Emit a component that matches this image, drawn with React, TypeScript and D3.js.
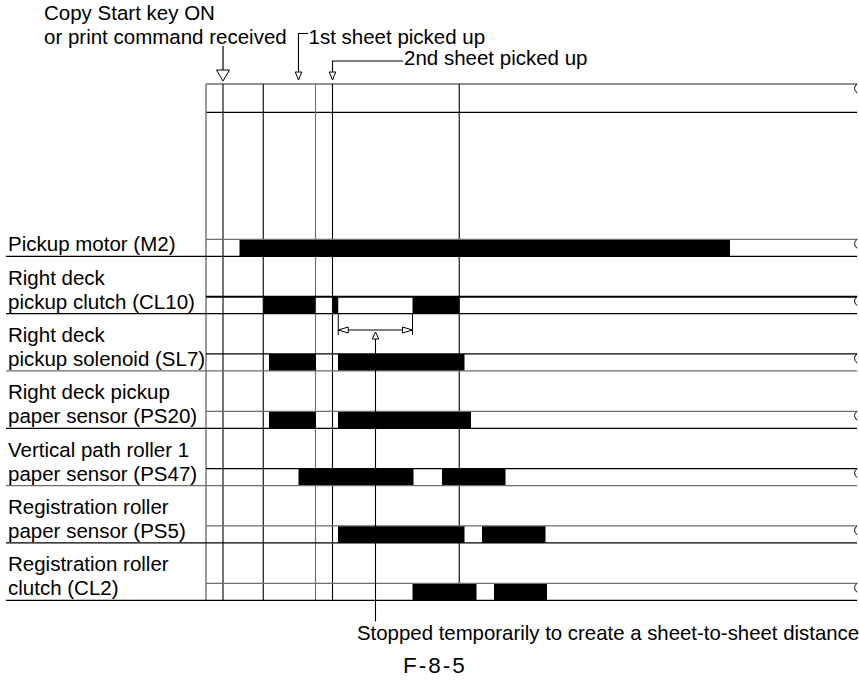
import React from "react";
import * as d3 from "d3";

// time axis in arbitrary units (0 = left border of diagram)
const rowLabels: string[][] = [
  ["Pickup motor (M2)"],
  ["Right deck", "pickup clutch (CL10)"],
  ["Right deck", "pickup solenoid (SL7)"],
  ["Right deck pickup", "paper sensor (PS20)"],
  ["Vertical path roller 1", "paper sensor (PS47)"],
  ["Registration roller", "paper sensor (PS5)"],
  ["Registration roller", "clutch (CL2)"],
];

const onIntervals: [number, number][][] = [
  [[6.7, 104.8]],
  [[11.45, 21.9], [25.3, 26.45], [41.3, 50.65]],
  [[12.6, 22.0], [26.4, 51.7]],
  [[12.6, 22.0], [26.4, 53.0]],
  [[18.5, 41.5], [47.2, 59.9]],
  [[26.4, 51.7], [55.2, 67.9]],
  [[41.3, 54.1], [57.6, 68.2]],
];

// event (timing) lines: time and whether it reaches through the last row
const eventTimes = [3.4, 11.45, 21.9, 25.3, 50.65];
const eventFull = [true, true, true, true, false];

const startEvent = 3.4; // copy start key ON
const secondPickup = 25.3;
const stopFrom = 26.45;
const stopTo = 41.3;
const stopMark = 33.9;
const timeEnd = 130.2;

const W = 859;
const H = 680;

const x = d3.scaleLinear().domain([0, timeEnd]).range([206, 857]);
const rowTop = d3
  .scaleLinear()
  .domain([0, rowLabels.length - 1])
  .range([239.3, 583.3]);
const ROW_H = 17;

const GRAY = "#6e6e6e";
const topColors = [GRAY, "#000", "#000", GRAY, "#000", GRAY, GRAY];
const botColors = ["#000", "#000", GRAY, "#000", GRAY, "#000", "#000"];
const topWidths = [1.2, 2, 1.2, 1.2, 1.2, 1.2, 1.2];

const FONT = "'Liberation Sans', Arial, Helvetica, sans-serif";

function Tri({ cx, tipY, w, h, dir }: { cx: number; tipY: number; w: number; h: number; dir: "down" | "up" }) {
  const baseY = dir === "down" ? tipY - h : tipY + h;
  const p = d3.path();
  p.moveTo(cx - w / 2, baseY);
  p.lineTo(cx + w / 2, baseY);
  p.lineTo(cx, tipY);
  p.closePath();
  return <path d={p.toString()} fill="#fff" stroke="#000" strokeWidth={1} />;
}

function HTri({ tipX, cy, w, h, dir }: { tipX: number; cy: number; w: number; h: number; dir: "left" | "right" }) {
  const baseX = dir === "left" ? tipX + w : tipX - w;
  const p = d3.path();
  p.moveTo(baseX, cy - h / 2);
  p.lineTo(baseX, cy + h / 2);
  p.lineTo(tipX, cy);
  p.closePath();
  return <path d={p.toString()} fill="#fff" stroke="#000" strokeWidth={1} />;
}

export default function App() {
  const lastBottom = rowTop(rowLabels.length - 1) + ROW_H;
  const lastTop = rowTop(rowLabels.length - 1);
  const frameTop = 84;
  const frameSecond = 112.3;
  const xs = x(startEvent);
  const x1 = 298.5;
  const x2 = x(secondPickup);
  const dimY = 330;
  const cl10Bottom = rowTop(1) + ROW_H;
  const fs = 20.5;

  return (
    <svg
      width={W}
      height={H}
      style={{ position: "absolute", left: 0, top: 0, background: "#fff" }}
      fontFamily={FONT}
    >
      <rect x={0} y={0} width={W} height={H} fill="#fff" />

      {/* top annotations */}
      <text x={44} y={19.5} fontSize={fs}>Copy Start key ON</text>
      <text x={44} y={43.5} fontSize={fs}>or print command received</text>
      <text x={308.5} y={43.5} fontSize={fs}>1st sheet picked up</text>
      <text x={404} y={65} fontSize={fs}>2nd sheet picked up</text>

      <line x1={xs} x2={xs} y1={46} y2={70} stroke="#000" strokeWidth={1.2} />
      <Tri cx={xs} tipY={81} w={13} h={11} dir="down" />

      <path d={`M${308},${33.5} H${x1} V${72}`} fill="none" stroke="#000" strokeWidth={1.1} />
      <Tri cx={x1} tipY={80} w={6.5} h={8} dir="down" />

      <path d={`M${403},${61} H${x2} V${72}`} fill="none" stroke="#000" strokeWidth={1.1} />
      <Tri cx={x2} tipY={80} w={6.5} h={8} dir="down" />

      {/* frame top lines */}
      <line x1={x(0)} x2={x(timeEnd)} y1={frameTop} y2={frameTop} stroke={GRAY} strokeWidth={1.3} />
      <path d={`M${x(timeEnd)},${frameTop} Q${x(timeEnd) - 5},${frameTop + 4} ${x(timeEnd)},${frameTop + 9}`} fill="none" stroke="#000" strokeWidth={1} />
      <line x1={x(0)} x2={x(timeEnd)} y1={frameSecond} y2={frameSecond} stroke="#000" strokeWidth={1.2} />

      {/* left border */}
      <line x1={x(0)} x2={x(0)} y1={frameTop} y2={lastBottom} stroke={GRAY} strokeWidth={1.4} />

      {/* event lines */}
      {eventTimes.map((t, i) => (
        <line
          key={"ev" + i}
          x1={x(t)}
          x2={x(t)}
          y1={frameTop}
          y2={eventFull[i] ? lastBottom : lastTop}
          stroke={i === 2 ? GRAY : "#000"}
          strokeWidth={1.1}
        />
      ))}

      {/* rows */}
      {rowLabels.map((lab, i) => {
        const top = rowTop(i);
        const bot = top + ROW_H;
        return (
          <g key={"row" + i}>
            {onIntervals[i].map(([a, b], j) => (
              <rect key={j} x={x(a)} y={top} width={x(b) - x(a)} height={ROW_H} fill="#000" />
            ))}
            <line x1={x(0)} x2={x(timeEnd)} y1={top} y2={top} stroke={topColors[i]} strokeWidth={topWidths[i]} />
            <line x1={6} x2={x(timeEnd)} y1={bot} y2={bot} stroke={botColors[i]} strokeWidth={1.3} />
            <path
              d={`M${x(timeEnd)},${top} Q${x(timeEnd) - 5},${top + 4} ${x(timeEnd)},${top + 9}`}
              fill="none"
              stroke="#000"
              strokeWidth={1}
            />
            {lab.map((s, k) => (
              <text key={k} x={8} y={bot - 5 - (lab.length - 1 - k) * 24} fontSize={fs}>
                {s}
              </text>
            ))}
          </g>
        );
      })}

      {/* sheet-to-sheet dimension */}
      <line x1={x(stopFrom)} x2={x(stopFrom)} y1={cl10Bottom} y2={dimY + 5} stroke="#000" strokeWidth={1} />
      <line x1={x(stopTo)} x2={x(stopTo)} y1={cl10Bottom} y2={dimY + 5} stroke="#000" strokeWidth={1} />
      <line x1={x(stopFrom)} x2={x(stopTo)} y1={dimY} y2={dimY} stroke="#000" strokeWidth={1} />
      <HTri tipX={x(stopFrom)} cy={dimY} w={10} h={6} dir="left" />
      <HTri tipX={x(stopTo)} cy={dimY} w={10} h={6} dir="right" />
      <line x1={x(stopMark)} x2={x(stopMark)} y1={338.5} y2={621.5} stroke="#000" strokeWidth={1.1} />
      <Tri cx={x(stopMark)} tipY={332} w={6.5} h={7} dir="up" />

      <text x={357} y={639.5} fontSize={20.4}>
        Stopped temporarily to create a sheet-to-sheet distance
      </text>
      <text x={403} y={673} fontSize={22.5} letterSpacing={2}>
        F-8-5
      </text>
    </svg>
  );
}
